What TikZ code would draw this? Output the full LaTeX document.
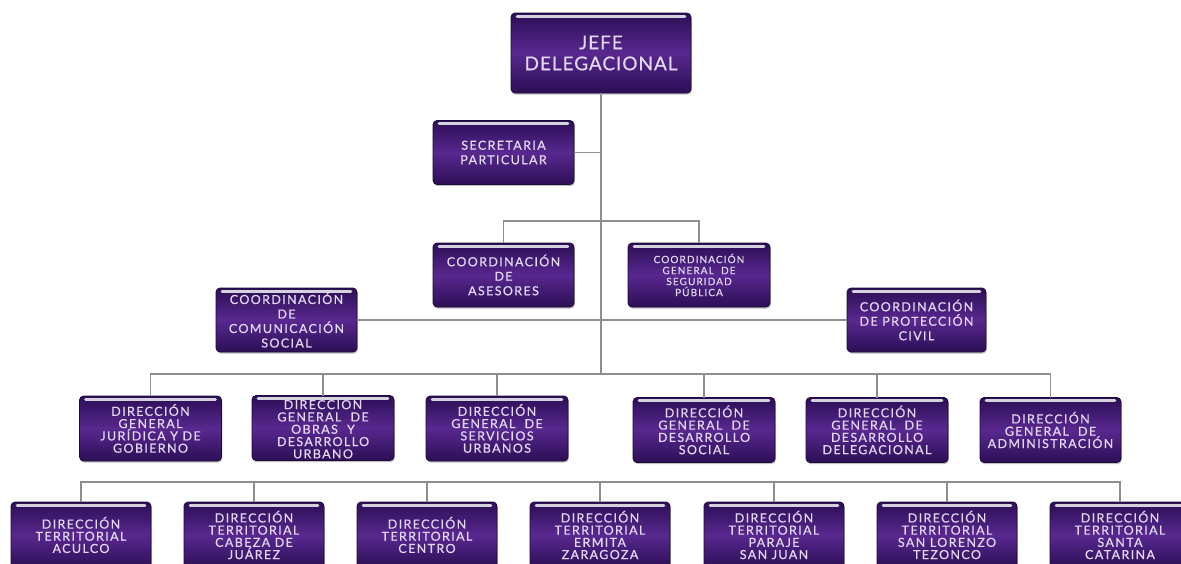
\documentclass[tikz,border=0pt]{standalone}
\usepackage{fontspec}
\setmainfont{Lato}
\newfontfamily\bxfont[LetterSpace=11,FakeBold=0.6]{Lato}
\newfontfamily\bigbxfont[LetterSpace=5,FakeBold=0.6]{Lato}
\usetikzlibrary{shadows}
\definecolor{boxdark}{HTML}{2C0E55}
\definecolor{boxmid}{HTML}{58288F}
\definecolor{boxedge}{HTML}{1D0A3A}
\definecolor{boxhl}{HTML}{D6D2DD}
\definecolor{boxtext}{HTML}{E2D6F0}
\definecolor{conn}{HTML}{8E8E8E}
\begin{document}
\begin{tikzpicture}[x=1pt,y=-1pt,
  every node/.style={inner sep=0pt, outer sep=0pt},
  orgbox/.style={draw=boxedge, line width=0.7pt, rounded corners=4pt,
    top color=boxdark, bottom color=boxdark, middle color=boxmid,
    text=boxtext, align=center,
    drop shadow={fill=black, opacity=0.25, shadow xshift=0.8pt, shadow yshift=-1.6pt},
    path picture={\draw[boxhl, line width=2.6pt, line cap=round]
      ([xshift=6pt,yshift=-3.2pt]path picture bounding box.north west) --
      ([xshift=-6pt,yshift=-3.2pt]path picture bounding box.north east);}},
  bigbox/.style={orgbox, minimum width=180pt, minimum height=80pt, font=\bigbxfont\fontsize{19}{21}\selectfont},
  medbox/.style={orgbox, minimum width=141pt, minimum height=64pt, font=\bxfont\fontsize{12.5}{14.5}\selectfont},
  smallbox/.style={orgbox, minimum width=142pt, minimum height=64pt, font=\bxfont\fontsize{10}{11}\selectfont},
  dirbox/.style={orgbox, minimum width=142pt, minimum height=65pt, font=\bxfont\fontsize{12.5}{12.3}\selectfont},
  terbox/.style={orgbox, minimum width=140pt, minimum height=66pt, font=\bxfont\fontsize{12.5}{12.2}\selectfont},
  link/.style={draw=conn, line width=1.3pt}
]
\useasboundingbox (0,0) rectangle (1181,563);
\fill[white] (0,0) rectangle (1181,563);
\clip (0,0) rectangle (1181,563);

% level 1
\node[bigbox] (jefe) at (601,53) {JEFE\\DELEGACIONAL};
% level 2
\node[medbox] (sec) at (503.5,152.5) {SECRETARIA\\PARTICULAR};
\node[medbox] (ases) at (503.5,275) {COORDINACIÓN\\DE\\ASESORES};
\node[smallbox] (cgsp) at (699,275) {COORDINACIÓN\\GENERAL \ DE\\SEGURIDAD\\PÚBLICA};
\node[medbox] (comu) at (286.5,320) {COORDINACIÓN\\DE\\COMUNICACIÓN\\SOCIAL};
\node[medbox, minimum width=139pt] (prot) at (916.5,320) {COORDINACIÓN\\DE PROTECCIÓN\\CIVIL};
% level 3
\node[dirbox] (d1) at (150.5,428.5) {DIRECCIÓN\\GENERAL\\JURÍDICA Y DE\\GOBIERNO};
\node[dirbox] (d2) at (323,428) {DIRECCIÓN\\GENERAL \ DE\\OBRAS \ Y\\DESARROLLO\\URBANO};
\node[dirbox] (d3) at (497,428.5) {DIRECCIÓN\\GENERAL \ DE\\SERVICIOS\\URBANOS};
\node[dirbox] (d4) at (704,430) {DIRECCIÓN\\GENERAL \ DE\\DESARROLLO\\SOCIAL};
\node[dirbox] (d5) at (877,430) {DIRECCIÓN\\GENERAL \ DE\\DESARROLLO\\DELEGACIONAL};
\node[dirbox, minimum width=141pt] (d6) at (1050.5,430) {DIRECCIÓN\\GENERAL \ DE\\ADMINISTRACIÓN};
% level 4
\node[terbox] (t1) at (81,535) {DIRECCIÓN\\TERRITORIAL\\ACULCO};
\node[terbox] (t2) at (254,535) {DIRECCIÓN\\TERRITORIAL\\CABEZA DE\\JUÁREZ};
\node[terbox] (t3) at (427,535) {DIRECCIÓN\\TERRITORIAL\\CENTRO};
\node[terbox] (t4) at (600,535) {DIRECCIÓN\\TERRITORIAL\\ERMITA\\ZARAGOZA};
\node[terbox] (t5) at (774,535) {DIRECCIÓN\\TERRITORIAL\\PARAJE\\SAN JUAN};
\node[terbox] (t6) at (947,535) {DIRECCIÓN\\TERRITORIAL\\SAN LORENZO\\TEZONCO};
\node[terbox] (t7) at (1120,535) {DIRECCIÓN\\TERRITORIAL\\SANTA\\CATARINA};

% bus coordinates
\coordinate (trunk) at (601,374);
\coordinate (br2) at (601,221);
\coordinate (bus4) at (600,482);

% connectors
\draw[link] (jefe.south) -- (trunk);
\draw[link] (sec.east) -- (sec.east -| jefe.south);
\draw[link] (ases.north) |- (br2) -| (cgsp.north);
\draw[link] (comu.east) -- (prot.west);
\draw[link] (d1.north) |- (trunk) -| (d6.north);
\foreach \n in {d2,d3,d4,d5} \draw[link] (\n.north) -- (\n.north |- trunk);
\draw[link] (t1.north) |- (bus4) -| (t7.north);
\foreach \n in {t2,t3,t4,t5,t6} \draw[link] (\n.north) -- (\n.north |- bus4);
\end{tikzpicture}
\end{document}
